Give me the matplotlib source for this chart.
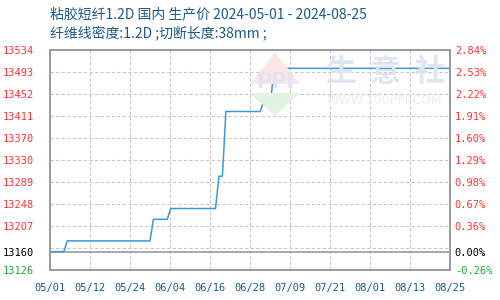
import numpy as np
import matplotlib
matplotlib.use("Agg")
import matplotlib.pyplot as plt
import matplotlib.dates as mdates
from matplotlib.patches import Polygon

plt.rcParams['font.family'] = ['Noto Sans CJK SC', 'DejaVu Sans']

# data (day offset from 2024-05-01, price)
start = np.datetime64("2024-05-01")
day_offset = [0, 4, 5, 29, 30, 34, 35, 48, 49, 50, 51, 61, 62, 64, 65, 116]
price = [13160, 13160, 13180, 13180, 13220, 13220, 13240, 13240,
         13300, 13300, 13420, 13420, 13440, 13440, 13500, 13500]
base = 13160
y_min, y_max = 13126, 13534
n_days = 116

title1 = "粘胶短纤1.2D 国内 生产价 2024-05-01 - 2024-08-25"
title2 = "纤维线密度:1.2D ;切断长度:38mm ;"

dates = start + np.array(day_offset).astype("timedelta64[D]")
x = mdates.date2num(dates.astype("datetime64[ms]").astype(object))
x0 = mdates.date2num(start.astype("datetime64[ms]").astype(object))

fig = plt.figure(figsize=(5, 3), dpi=100)
ax = fig.add_axes([0.1, 0.1, 0.8, 0.7333])

RED = "#ff3333"
GREEN = "#22aa33"
BLUE = "#1c5a87"
GRID = "#c8c8c8"

# watermark
wm = dict(transform=fig.transFigure, zorder=0)
fig.patches.append(Polygon([[250/500, 1-84/300], [275/500, 1-52/300], [300/500, 1-84/300]],
                           closed=True, fc="#fce6e6", ec="none", **wm))
fig.patches.append(Polygon([[250/500, 1-93/300], [275/500, 1-116/300], [300/500, 1-93/300]],
                           closed=True, fc="#e2f3e2", ec="none", **wm))
fig.text(275/500, 1-82/300, "PPI", ha="center", va="center", fontsize=15,
         color="#dfe5f0", fontweight="bold", family="DejaVu Sans", zorder=1)
fig.text(386/500, 1-72/300, "生  意  社", ha="center", va="center", fontsize=22,
         color="#dfe5f0", fontweight="bold", zorder=1)
fig.text(384/500, 1-101/300, "WWW.100PPI.COM", ha="center", va="center", fontsize=9,
         color="#eeeeee", family="DejaVu Sans", zorder=1)
ax.patch.set_alpha(0)

levels = np.linspace(y_min, y_max, 11)
for lv in levels[1:-1]:
    ax.axhline(lv, color=GRID, lw=0.8, ls=(0, (3, 2)), zorder=1)
xticks = x0 + np.linspace(0, n_days, 11)
for xt in xticks[1:-1]:
    ax.axvline(xt, color=GRID, lw=0.8, ls=(0, (3, 2)), zorder=1)
ax.axhline(base, color="#999999", lw=1.2, zorder=2)

ax.plot(x, price, color="#3a9ad9", lw=1.1, zorder=3)

ax.set_xlim(x0, x0 + n_days)
ax.set_ylim(y_min, y_max)
ax.set_xticks(xticks)
ax.xaxis.set_major_formatter(mdates.DateFormatter("%m/%d"))

yt = [y_min, base] + list(levels[2:])
ax.set_yticks(yt)
ax.set_yticklabels([str(int(v)) for v in yt])

ax2 = ax.twinx()
ax2.set_ylim(y_min, y_max)
ax2.set_yticks(yt)
ax2.set_yticklabels(["%.2f%%" % ((v - base) / base * 100) for v in yt])

def colour(v):
    if abs(v - base) < 1e-6:
        return "black"
    return RED if v > base else GREEN

for a, pad in ((ax, 11.5), (ax2, 3.5)):
    a.tick_params(axis="y", length=0, pad=pad, labelsize=7.5)
    for lab, v in zip(a.get_yticklabels(), yt):
        lab.set_color(colour(v))
        lab.set_family("DejaVu Sans Mono")
    for s in a.spines.values():
        s.set_color("#999999")
        s.set_linewidth(1.2)
ax.tick_params(axis="x", length=0, pad=9, labelsize=7.5, labelcolor=BLUE)
for lab in ax.get_xticklabels():
    lab.set_family("DejaVu Sans Mono")

fig.text(50/500, 1-14/300, title1, fontsize=10, color=BLUE, va="center", ha="left")
fig.text(50/500, 1-33/300, title2, fontsize=10, color=BLUE, va="center", ha="left")

fig.savefig("out.png", dpi=100)
